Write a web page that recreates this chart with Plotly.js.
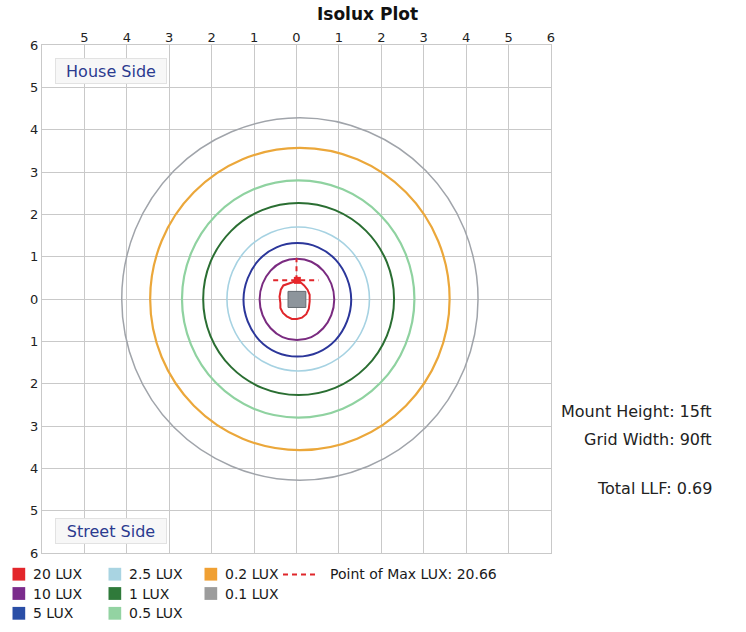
<!DOCTYPE html>
<html>
<head>
<meta charset="utf-8">
<script src="https://cdn.plot.ly/plotly-3.0.1.min.js"></script>
<style>html,body{margin:0;padding:0;background:#fff;}#chart{width:746px;height:632px;}</style>
</head>
<body>
<div id="chart"></div>
<script>
// ---- tick labels ----
var xTickVals = [-5,-4,-3,-2,-1,0,1,2,3,4,5,6];
var xTickText = ['5','4','3','2','1','0','1','2','3','4','5','6'];
var yTickVals = [-6,-5,-4,-3,-2,-1,0,1,2,3,4,5,6];
var yTickText = ['6','5','4','3','2','1','0','1','2','3','4','5','6'];

// ---- legend ----
var luxLabels = ['20 LUX','10 LUX','5 LUX','2.5 LUX','1 LUX','0.5 LUX','0.2 LUX','0.1 LUX'];
var luxColors = ['#e3262b','#7b2c8c','#2a4ea6','#a9d4e2','#2f7a3a','#93d3a2','#f0a033','#9c9c9c'];
var lineColors = ['#e0262b','#7a2b80','#2b369a','#a6d2e2','#2a6e32','#8fd2a0','#eba73a','#a0a4aa'];
var maxLuxLabel = 'Point of Max LUX: 20.66';
var infoLines = ['Mount Height: 15ft','Grid Width: 90ft','Total LLF: 0.69'];

// ---- isolux contours (grid units) ----
var lux20X = [0.01,-0.15,-0.31,-0.37,-0.40,-0.38,-0.38,-0.32,-0.23,-0.11,0.01,0.13,0.23,0.29,0.31,0.31,0.26,0.18,0.09,0.01];
var lux20Y = [0.43,0.375,0.32,0.22,0.06,-0.10,-0.21,-0.33,-0.41,-0.47,-0.47,-0.44,-0.36,-0.23,-0.06,0.10,0.22,0.32,0.40,0.43];

var lux10X = [0.89,0.82,0.63,0.35,0.01,-0.33,-0.61,-0.80,-0.87,-0.80,-0.61,-0.33,0.01,0.35,0.63,0.82,0.89];
var lux10Y = [-0.01,0.36,0.67,0.88,0.95,0.88,0.67,0.36,-0.01,-0.38,-0.69,-0.90,-0.97,-0.90,-0.69,-0.38,-0.01];

var lux5X = [1.29,1.19,0.92,0.51,0.02,-0.47,-0.88,-1.15,-1.25,-1.15,-0.88,-0.47,0.02,0.51,0.92,1.19,1.29];
var lux5Y = [-0.02,0.49,0.93,1.22,1.32,1.22,0.93,0.49,-0.02,-0.53,-0.97,-1.26,-1.36,-1.26,-0.97,-0.53,-0.02];

var lux25X = [1.72,1.59,1.23,0.68,0.04,-0.60,-1.15,-1.51,-1.64,-1.51,-1.15,-0.60,0.04,0.68,1.23,1.59,1.72];
var lux25Y = [0,0.65,1.20,1.57,1.70,1.57,1.20,0.65,0,-0.65,-1.20,-1.57,-1.70,-1.57,-1.20,-0.65,0];

var lux1X = [2.30,2.13,1.64,0.91,0.05,-0.81,-1.54,-2.03,-2.20,-2.03,-1.54,-0.81,0.05,0.91,1.64,2.13,2.30];
var lux1Y = [0,0.87,1.61,2.10,2.27,2.10,1.61,0.87,0,-0.87,-1.61,-2.10,-2.27,-2.10,-1.61,-0.87,0];

var lux05X = [2.78,2.57,1.98,1.09,0.04,-1.01,-1.90,-2.49,-2.70,-2.49,-1.90,-1.01,0.04,1.09,1.98,2.57,2.78];
var lux05Y = [0,1.07,1.98,2.59,2.80,2.59,1.98,1.07,0,-1.07,-1.98,-2.59,-2.80,-2.59,-1.98,-1.07,0];

var lux02X = [3.61,3.34,2.58,1.43,0.08,-1.27,-2.42,-3.18,-3.45,-3.18,-2.42,-1.27,0.08,1.43,2.58,3.34,3.61];
var lux02Y = [0,1.37,2.52,3.30,3.57,3.30,2.52,1.37,0,-1.37,-2.52,-3.30,-3.57,-3.30,-2.52,-1.37,0];

var lux01X = [4.28,3.96,3.05,1.69,0.08,-1.53,-2.89,-3.80,-4.12,-3.80,-2.89,-1.53,0.08,1.69,3.05,3.96,4.28];
var lux01Y = [0,1.64,3.03,3.95,4.28,3.95,3.03,1.64,0,-1.64,-3.03,-3.95,-4.28,-3.95,-3.03,-1.64,0];

// ---- point of max & fixture ----
var maxPointX = [0.02];
var maxPointY = [0.44];
var maxHLineX = [-0.55, 0.52];
var maxHLineY = [0.44, 0.44];
var maxVLineX = [0.0, 0.0];
var maxVLineY = [0.44, 0.96];
var fixtureX = [-0.2, 0.22];
var fixtureY = [-0.2, 0.18];

var contourXs = [lux20X,lux10X,lux5X,lux25X,lux1X,lux05X,lux02X,lux01X];
var contourYs = [lux20Y,lux10Y,lux5Y,lux25Y,lux1Y,lux05Y,lux02Y,lux01Y];
var lineWidths = [2,2,2,1.6,2,2.2,2.2,1.5];

// ---- geometry helpers (pixels -> paper) ----
var W = 746, H = 632, ML = 42, MR = 195, MT = 45, MB = 79;
var PW = W - ML - MR, PH = H - MT - MB;
function px(x){ return (x - ML) / PW; }
function py(y){ return (H - MB - y) / PH; }

var FONT = 'DejaVu Sans';
var traces = [];
for (var i = contourXs.length - 1; i >= 0; i--) {
  traces.push({
    type: 'scatter', mode: 'lines', x: contourXs[i], y: contourYs[i],
    name: luxLabels[i], showlegend: false, hoverinfo: 'skip',
    line: {color: lineColors[i], width: lineWidths[i], shape: i === 0 ? 'linear' : 'spline', smoothing: 1}
  });
}
traces.push({type:'scatter', mode:'lines', x:maxHLineX, y:maxHLineY, showlegend:false, hoverinfo:'skip',
  line:{color:'#e0262b', width:2, dash:'5px,4px'}});
traces.push({type:'scatter', mode:'lines', x:maxVLineX, y:maxVLineY, showlegend:false, hoverinfo:'skip',
  line:{color:'#e0262b', width:2, dash:'5px,4px'}});
traces.push({type:'scatter', mode:'markers', x:maxPointX, y:maxPointY, showlegend:false, hoverinfo:'skip',
  marker:{symbol:'square', size:7, color:'#e8262a'}});

var shapes = [
  {type:'rect', xref:'x', yref:'y', x0:fixtureX[0], x1:fixtureX[1], y0:fixtureY[0], y1:fixtureY[1],
   fillcolor:'#8d959c', line:{color:'#646c72', width:1}, layer:'above'}
];
var annotations = [];

// House/Street side labels
annotations.push({xref:'x', yref:'y', x:-4.37, y:5.39, text:'House Side', showarrow:false,
  font:{family:FONT, size:16, color:'#2b3b8f'}, bgcolor:'#f7f7f7', bordercolor:'#e2e2e2', borderwidth:1,
  width:108, height:22});
annotations.push({xref:'x', yref:'y', x:-4.37, y:-5.49, text:'Street Side', showarrow:false,
  font:{family:FONT, size:16, color:'#2b3b8f'}, bgcolor:'#f7f7f7', bordercolor:'#e2e2e2', borderwidth:1,
  width:108, height:22});

// info text on the right
var infoY = [411.7, 439, 488.3];
for (var k = 0; k < infoLines.length; k++) {
  annotations.push({xref:'paper', yref:'paper', x:px(713.5), y:py(infoY[k]), xanchor:'right', yanchor:'middle',
    text:infoLines[k], showarrow:false, font:{family:FONT, size:16, color:'#222'}});
}

// manual legend, 3 columns
var colSquareX = [12.5, 108.5, 204.5];
var rowY = [574.2, 593.5, 613.3];
for (var j = 0; j < luxLabels.length; j++) {
  var c = Math.floor(j / 3), r = j % 3;
  var sx = colSquareX[c], sy = rowY[r];
  shapes.push({type:'rect', xref:'paper', yref:'paper', x0:px(sx), x1:px(sx+12.7), y0:py(sy+6.4), y1:py(sy-6.4),
    fillcolor:luxColors[j], line:{width:0}});
  annotations.push({xref:'paper', yref:'paper', x:px(sx+18.5), y:py(sy), xanchor:'left', yanchor:'middle',
    text:luxLabels[j], showarrow:false, font:{family:FONT, size:14, color:'#1a1a1a'}});
}
shapes.push({type:'line', xref:'paper', yref:'paper', x0:px(283), x1:px(316), y0:py(574.5), y1:py(574.5),
  line:{color:'#e0262b', width:2, dash:'5px,4px'}});
annotations.push({xref:'paper', yref:'paper', x:px(327.5), y:py(574.2), xanchor:'left', yanchor:'middle',
  text:maxLuxLabel, showarrow:false, font:{family:FONT, size:14, color:'#1a1a1a'}});

var layout = {
  width: W, height: H,
  margin: {l:ML, r:MR, t:MT, b:MB, pad:0},
  paper_bgcolor:'#ffffff', plot_bgcolor:'#ffffff',
  showlegend:false,
  title: {text:'<b>Isolux Plot</b>', x:367.5/W, xanchor:'center', y:1-14/H, yanchor:'middle',
    font:{family:FONT, size:17, color:'#111'}},
  xaxis: {range:[-6,6], side:'top', tickmode:'array', tickvals:xTickVals, ticktext:xTickText,
    showgrid:true, gridcolor:'#c9c9c9', gridwidth:1.4, zeroline:false, showline:true, linecolor:'#c9c9c9',
    linewidth:1.4, mirror:true, ticks:'', ticklabelstandoff:-3,
    tickfont:{family:FONT, size:13, color:'#222'}, fixedrange:true},
  yaxis: {range:[-6,6], tickmode:'array', tickvals:yTickVals, ticktext:yTickText,
    showgrid:true, gridcolor:'#c9c9c9', gridwidth:1.4, zeroline:false, showline:true, linecolor:'#c9c9c9',
    linewidth:1.4, mirror:true, ticks:'', tickfont:{family:FONT, size:13, color:'#222'}, fixedrange:true},
  shapes: shapes,
  annotations: annotations
};

Plotly.newPlot('chart', traces, layout, {displayModeBar:false, responsive:false});
</script>
</body>
</html>
